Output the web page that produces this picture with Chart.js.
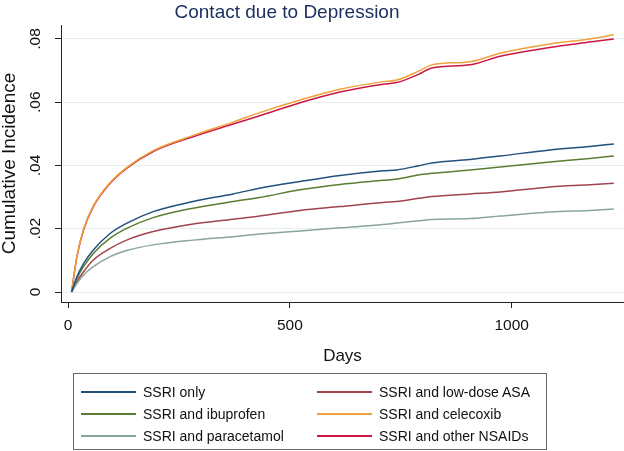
<!DOCTYPE html>
<html>
<head>
<meta charset="utf-8">
<script src="https://cdn.jsdelivr.net/npm/chart.js@4/dist/chart.umd.min.js"></script>
<style>
  body { margin: 0; background: #fff; font-family: "Liberation Sans", Arial, sans-serif; }
  #wrap { position: relative; width: 624px; height: 451px; overflow: hidden; }
  #titulo { position: absolute; left: 0; top: 0; width: 574px; text-align: center; font-size: 19px; color: #1e3160; line-height: 24px; }
  #legenda { position: absolute; left: 73px; top: 373px; width: 474px; height: 77px; border: 1px solid #666; box-sizing: border-box; }
  .item { position: absolute; font-size: 14px; color: #111; line-height: 16px; }
  .item span.linha { position: absolute; top: 7px; height: 2px; width: 55px; }
  .item span.texto { position: absolute; white-space: nowrap; }
</style>
</head>
<body>
<div id="wrap">
  <canvas id="grafico" width="624" height="451"></canvas>
  <div id="titulo">Contact due to Depression</div>
  <div id="legenda"></div>
</div>
<script>
// dias de seguimento
const dias = [8, 20, 35, 57, 95, 132, 192, 282, 372, 432, 523, 613, 710, 741, 790, 820, 906, 974, 1086, 1176, 1230];

const ssriOnly = [0, .0048, .0090, .0133, .0185, .0217, .0254, .0286, .0310, .0328, .0349, .0368, .0383, .0386, .0399, .0408, .0419, .0430, .0449, .0460, .0468];
const ssriIbuprofen = [0, .0043, .0080, .0122, .0170, .0201, .0235, .0265, .0286, .0299, .0323, .0340, .0353, .0357, .0370, .0375, .0386, .0395, .0411, .0422, .0430];
const ssriParacetamol = [0, .0027, .0054, .0080, .0112, .0131, .0149, .0164, .0175, .0183, .0193, .0203, .0213, .0218, .0225, .0229, .0232, .0240, .0253, .0258, .0262];
const ssriAsa = [0, .0033, .0064, .0101, .0138, .0164, .0191, .0215, .0230, .0240, .0258, .0270, .0283, .0286, .0296, .0302, .0310, .0316, .0332, .0339, .0344];
const ssriCelecoxib = [0, .0112, .0198, .0272, .0346, .0393, .0447, .0495, .0537, .0567, .0607, .0641, .0665, .0670, .0698, .0718, .0728, .0755, .0784, .0800, .0813];
const ssriOutrosAines = [0, .0111, .0196, .0270, .0344, .0391, .0444, .0491, .0531, .0557, .0598, .0632, .0657, .0662, .0688, .0708, .0718, .0745, .0773, .0790, .0800];

const nomes = ["SSRI only", "SSRI and ibuprofen", "SSRI and paracetamol", "SSRI and low-dose ASA", "SSRI and celecoxib", "SSRI and other NSAIDs"];
const cores = ["#22507d", "#5a7d34", "#88a59d", "#a0434e", "#eda23a", "#cc1744"];
const series = [ssriOnly, ssriIbuprofen, ssriParacetamol, ssriAsa, ssriCelecoxib, ssriOutrosAines];

const ticksY = [0, 0.02, 0.04, 0.06, 0.08];
const rotulosY = ["0", ".02", ".04", ".06", ".08"];
const ticksX = [0, 500, 1000];

const datasets = series.map((valores, i) => ({
  label: nomes[i],
  data: dias.map((d, j) => ({ x: d, y: valores[j] })),
  borderColor: cores[i],
  borderWidth: 1.5,
  pointRadius: 0,
  cubicInterpolationMode: "monotone",
  fill: false,
}));

new Chart(document.getElementById("grafico"), {
  type: "line",
  data: { datasets: datasets },
  options: {
    responsive: false,
    animation: false,
    layout: { padding: { top: 25, right: 0, bottom: 84, left: 0 } },
    plugins: { legend: { display: false }, tooltip: { enabled: false } },
    scales: {
      x: {
        type: "linear",
        min: -15.8,
        max: 1253,
        afterBuildTicks: (scale) => { scale.ticks = ticksX.map((v) => ({ value: v })); },
        afterFit: (scale) => { scale.height = 65; },
        grid: { drawOnChartArea: false, drawTicks: true, tickLength: 6, tickColor: "#222" },
        border: { display: true, color: "#222", width: 1 },
        ticks: {
          color: "#111",
          padding: 8,
          maxRotation: 0,
          font: { family: "Liberation Sans", size: 15.5 },
          callback: (valor) => String(valor),
        },
        title: { display: true, text: "Days", color: "#111", padding: 0, font: { family: "Liberation Sans", size: 17 } },
      },
      y: {
        type: "linear",
        min: -0.00316,
        max: 0.0844,
        afterBuildTicks: (scale) => { scale.ticks = ticksY.map((v) => ({ value: v })); },
        afterFit: (scale) => { scale.width = 61; },
        grid: { color: "#e6eef0", lineWidth: 1, drawTicks: true, tickLength: 6, tickColor: "#222" },
        border: { display: true, color: "#222", width: 1 },
        ticks: {
          color: "#111",
          padding: 9,
          minRotation: 90,
          maxRotation: 90,
          crossAlign: "center",
          font: { family: "Liberation Sans", size: 15.5 },
          callback: (valor) => {
            const i = ticksY.indexOf(valor);
            return i >= 0 ? rotulosY[i] : "";
          },
        },
        title: { display: true, text: "Cumulative Incidence", color: "#111", padding: 0, font: { family: "Liberation Sans", size: 19, lineHeight: 1 } },
      },
    },
  },
});

// legenda em duas colunas (ordem por coluna)
const legenda = document.getElementById("legenda");
const colunas = [{ linha: 7, texto: 69 }, { linha: 243, texto: 305 }];
const linhas = [10, 32, 54];

nomes.forEach((nome, i) => {
  const col = colunas[Math.floor(i / 3)];
  const div = document.createElement("div");
  div.className = "item";
  div.style.left = "0px";
  div.style.top = linhas[i % 3] + "px";
  div.innerHTML = `<span class="linha" style="left:${col.linha}px;background:${cores[i]}"></span><span class="texto" style="left:${col.texto}px">${nome}</span>`;
  legenda.appendChild(div);
});
</script>
</body>
</html>
